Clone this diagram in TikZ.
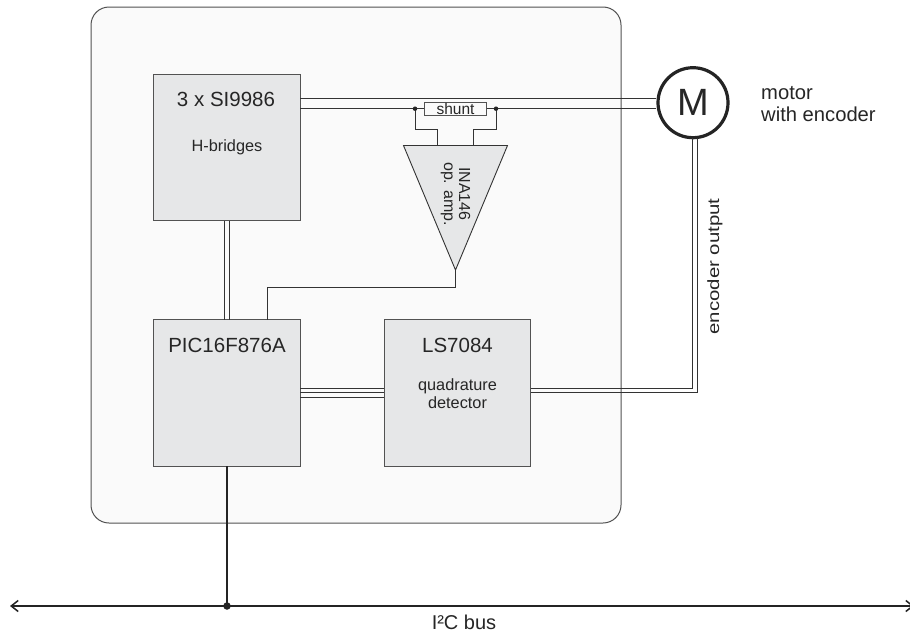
\documentclass[tikz,border=0pt]{standalone}
\usepackage{fontspec}
\setmainfont{Liberation Sans}
\usetikzlibrary{arrows.meta}
\definecolor{ink}{HTML}{333333}
\definecolor{boxfill}{HTML}{E6E7E8}
\definecolor{panelfill}{HTML}{FAFAFA}
\tikzset{
  wire/.style={draw=ink,line width=0.95pt},
  heavy/.style={draw=ink!70!black,line width=2pt},
  chip/.style={draw=ink!85,line width=1.1pt,fill=boxfill,minimum width=146.5pt,minimum height=146.5pt,inner sep=0pt,outer sep=0pt},
  lbl/.style={font=\fontsize{20.5}{22}\selectfont,text=black!85,inner sep=0pt},
  sml/.style={font=\fontsize{16.3}{18}\selectfont,text=black!85,inner sep=0pt},
  junction/.style={circle,fill=ink!70!black,inner sep=0pt,minimum size=#1},
  junction/.default=4.5pt
}
\begin{document}
\begin{tikzpicture}[x=1pt,y=-1pt]
\useasboundingbox (0,0) rectangle (910,632);
\fill[white] (0,0) rectangle (910,632);
\node[draw=ink!85,line width=1pt,fill=panelfill,rounded corners=18pt,minimum width=530pt,minimum height=516pt,inner sep=0pt] (panel) at (356,265) {};
% chips
\node[chip] (hb) at (227,147.5) {};
\node[chip] (pic) at (227,393) {};
\node[chip] (ls) at (457.5,393) {};
\node[lbl] (hbt) at (226,99.5) {3 x SI9986};
\node[sml] (hbs) at (227,147) {H-bridges};
\node[lbl] (pict) at (227,345) {PIC16F876A};
\node[lbl] (lst) at (457.5,345) {LS7084};
\node[sml,align=center] (lss) at (457.5,394) {quadrature\\detector};
% motor
\node[circle,draw=ink!70!black,line width=3.2pt,fill=white,minimum size=70pt,inner sep=0pt] (motor) at (693,102.7) {\fontsize{38}{40}\selectfont\color{black!85}M};
\node[font=\fontsize{20.2}{22.5}\selectfont,text=black!85,align=left,anchor=west,inner sep=0pt] (motl) at (761,104) {motor\\with encoder};
% shunt
\node[draw=ink!85,line width=0.9pt,fill=panelfill,minimum width=61.5pt,minimum height=13.5pt,inner sep=0pt,font=\fontsize{15.5}{15}\selectfont,text=black!85] (shunt) at (455.5,108.7) {shunt};
% amp
\coordinate (ampL) at (403.5,145.5);
\coordinate (ampR) at (507.5,145.5);
\coordinate (ampT) at (455.5,270);
\filldraw[draw=ink,line width=0.9pt,fill=boxfill,line join=miter] (ampL) -- (ampR) -- (ampT) -- cycle;
\node[sml,rotate=-90,align=center,font=\fontsize{16}{15}\selectfont] (ampl) at (455.5,194) {INA146\\op. amp.};
% coordinates
\coordinate (jl) at (415,108.7);
\coordinate (jr) at (496,108.7);
\coordinate (ampinl) at (437,145.5);
\coordinate (ampinr) at (473,145.5);
% motor lines
\draw[wire] (hb.east |- 0,98.7) -- (motor.west |- 0,98.7);
\draw[wire] (hb.east |- 0,108.7) -- (shunt.west);
\draw[wire] (shunt.east) -- (motor.west |- 0,108.7);
% amp inputs
\draw[wire] (jl) -- (415,129.5) -| (ampinl);
\draw[wire] (jr) -- (496,129.5) -| (ampinr);
\node[junction] (jln) at (jl) {};
\node[junction] (jrn) at (jr) {};
% amp output
\draw[wire] (ampT) -- (455.5,287.5) -| (267,320);
% hb to pic
\draw[wire] (224.5,220.8) -- (224.5,319.8);
\draw[wire] (229.2,220.8) -- (229.2,319.8);
% pic to ls
\foreach \yy in {388.2,392.8,397.2}{\draw[wire] (pic.east |- 0,\yy) -- (ls.west |- 0,\yy);}
% encoder lines
\draw[wire,line join=miter] (ls.east |- 0,388.3) -| (692.7,138);
\draw[wire,line join=miter] (ls.east |- 0,392.8) -| (697.3,138);
\node[sml,rotate=90] (enc) at (715,266.5) {\scalebox{1.25}[1]{encoder output}};
% bus
\coordinate (busL) at (10,606);
\coordinate (busR) at (914,606);
\coordinate (tap) at (227,606);
\draw[heavy,{Straight Barb[length=7pt,width=11pt,line width=1.5pt]}-{Straight Barb[length=7pt,width=11pt,line width=1.5pt]}] (busL) -- (busR);
\draw[heavy] (pic.south) -- (tap);
\node[junction=7.5pt] (tapn) at (tap) {};
\node[font=\fontsize{20}{22}\selectfont,text=black!85,inner sep=0pt] (busl) at (464,622) {I²C bus};
\end{tikzpicture}
\end{document}
